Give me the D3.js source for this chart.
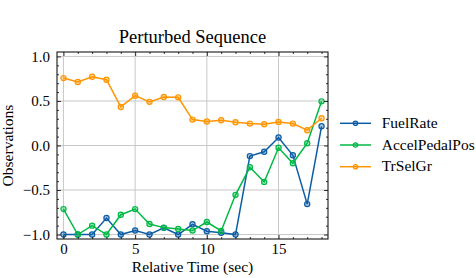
<!DOCTYPE html>
<html>
<head>
<meta charset="utf-8">
<script src="https://cdn.jsdelivr.net/npm/d3@7"></script>
<style>
  body { margin: 0; background: #fff; }
  svg { display: block; font-family: "Liberation Serif", serif; }
</style>
</head>
<body>
<svg id="chart" width="476" height="278"></svg>
<script>
// time steps 0..18
const times = d3.range(0, 19)

const fuelRate = [-1.0, -1.0, -1.0, -0.815, -1.0, -0.955, -1.0, -0.925, -1.0, -0.885,
  -0.963, -0.98, -1.0, -0.119, -0.07, 0.089, -0.11, -0.658, 0.216]
const accelPedalPos = [-0.714, -1.0, -0.9, -1.0, -0.777, -0.714, -0.881, -0.922, -0.937, -0.955,
  -0.859, -0.96, -0.554, -0.245, -0.409, -0.026, -0.2, 0.026, 0.496]
const trSelGr = [0.757, 0.713, 0.772, 0.739, 0.433, 0.56, 0.49, 0.545, 0.541, 0.291,
  0.269, 0.284, 0.261, 0.246, 0.239, 0.265, 0.246, 0.172, 0.306]

const seriesNames = ["FuelRate", "AccelPedalPos", "TrSelGr"]
const seriesColors = ["#0C5DA5", "#00B945", "#FF9500"]
const xTicks = [0, 5, 10, 15]
const yTicks = [-1.0, -0.5, 0.0, 0.5, 1.0]

const series = [fuelRate, accelPedalPos, trSelGr].map((vals, i) => ({
  name: seriesNames[i],
  color: seriesColors[i],
  values: vals.map((v, j) => ({t: times[j], v}))
}))

const margins = {left: 57, top: 52, right: 148, bottom: 39}
const width = 476, height = 278
const innerW = width - margins.left - margins.right
const innerH = height - margins.top - margins.bottom

const svg = d3.select("#chart")

const x = d3.scaleLinear().domain([-0.45, 18.45]).range([0, innerW])
const y = d3.scaleLinear().domain([-1.05, 1.05]).range([innerH, 0])

const g = svg.append("g")
  .attr("transform", `translate(${margins.left}, ${margins.top})`)

// grid
g.append("g").selectAll("line").data(xTicks).join("line")
  .attr("x1", d => x(d)).attr("x2", d => x(d))
  .attr("y1", 0).attr("y2", innerH)
  .attr("stroke", "#c8c8c8").attr("stroke-width", 1)
g.append("g").selectAll("line").data(yTicks).join("line")
  .attr("y1", d => y(d)).attr("y2", d => y(d))
  .attr("x1", 0).attr("x2", innerW)
  .attr("stroke", "#c8c8c8").attr("stroke-width", 1)

// lines + markers
const line = d3.line().x(d => x(d.t)).y(d => y(d.v))
series.forEach(s => {
  g.append("path")
    .datum(s.values)
    .attr("fill", "none")
    .attr("stroke", s.color)
    .attr("stroke-width", 1.5)
    .attr("d", line)
  g.append("g").selectAll("circle").data(s.values).join("circle")
    .attr("cx", d => x(d.t)).attr("cy", d => y(d.v))
    .attr("r", 2.6)
    .attr("fill", s.color).attr("fill-opacity", 0.35)
    .attr("stroke", s.color).attr("stroke-width", 1.2)
})

// axes with inward ticks on all sides
const fmt = d => d < 0 ? "\u2212" + d3.format(".1f")(-d) : d3.format(".1f")(d)
const xMinor = d3.range(0, 19).filter(d => d % 5 !== 0)
const yMinor = d3.range(-10, 11).map(d => d / 10).filter(d => Math.round(d * 10) % 5 !== 0)

function styleAxis(sel) {
  sel.select(".domain").remove()
  sel.selectAll("line").attr("stroke", "#000").attr("stroke-width", 0.8)
  sel.selectAll("text").attr("fill", "#000").attr("font-size", 15)
    .attr("font-family", "Liberation Serif, serif")
}

g.append("g").attr("transform", `translate(0,${innerH})`)
  .call(d3.axisBottom(x).tickValues(xTicks).tickSizeInner(-4).tickSizeOuter(0).tickPadding(4).tickFormat(d3.format("d")))
  .call(styleAxis)
g.append("g").attr("transform", `translate(0,${innerH})`)
  .call(d3.axisBottom(x).tickValues(xMinor).tickSize(-2).tickFormat(""))
  .call(styleAxis)
g.append("g")
  .call(d3.axisTop(x).tickValues(xTicks).tickSize(-4).tickFormat(""))
  .call(styleAxis)
g.append("g")
  .call(d3.axisTop(x).tickValues(xMinor).tickSize(-2).tickFormat(""))
  .call(styleAxis)

g.append("g")
  .call(d3.axisLeft(y).tickValues(yTicks).tickSizeInner(-4).tickSizeOuter(0).tickPadding(7).tickFormat(fmt))
  .call(styleAxis)
g.append("g")
  .call(d3.axisLeft(y).tickValues(yMinor).tickSize(-2).tickFormat(""))
  .call(styleAxis)
g.append("g").attr("transform", `translate(${innerW},0)`)
  .call(d3.axisRight(y).tickValues(yTicks).tickSize(-4).tickFormat(""))
  .call(styleAxis)
g.append("g").attr("transform", `translate(${innerW},0)`)
  .call(d3.axisRight(y).tickValues(yMinor).tickSize(-2).tickFormat(""))
  .call(styleAxis)

// frame
g.append("rect")
  .attr("width", innerW).attr("height", innerH)
  .attr("fill", "none").attr("stroke", "#000").attr("stroke-width", 1)

// title and labels
svg.append("text")
  .attr("x", margins.left + innerW / 2).attr("y", 43)
  .attr("text-anchor", "middle").attr("font-size", 18.5)
  .text("Perturbed Sequence")
svg.append("text")
  .attr("x", margins.left + innerW / 2).attr("y", 271.5)
  .attr("text-anchor", "middle").attr("font-size", 15.5)
  .text("Relative Time (sec)")
svg.append("text")
  .attr("transform", `translate(12.5, ${margins.top + innerH / 2}) rotate(-90)`)
  .attr("text-anchor", "middle").attr("font-size", 15.5)
  .text("Observations")

// legend
const legend = svg.append("g").attr("transform", "translate(340, 123.3)")
const rows = legend.selectAll("g").data(series).join("g")
  .attr("transform", (d, i) => `translate(0, ${i * 21.7})`)
rows.append("line")
  .attr("x1", 0).attr("x2", 31)
  .attr("stroke", d => d.color).attr("stroke-width", 1.5)
rows.append("circle")
  .attr("cx", 15.5).attr("r", 2.2)
  .attr("fill", d => d.color).attr("fill-opacity", 0.35)
  .attr("stroke", d => d.color).attr("stroke-width", 1.2)
rows.append("text")
  .attr("x", 41.7).attr("y", 4.5)
  .attr("font-size", 15.5)
  .text(d => d.name)
</script>
</body>
</html>
